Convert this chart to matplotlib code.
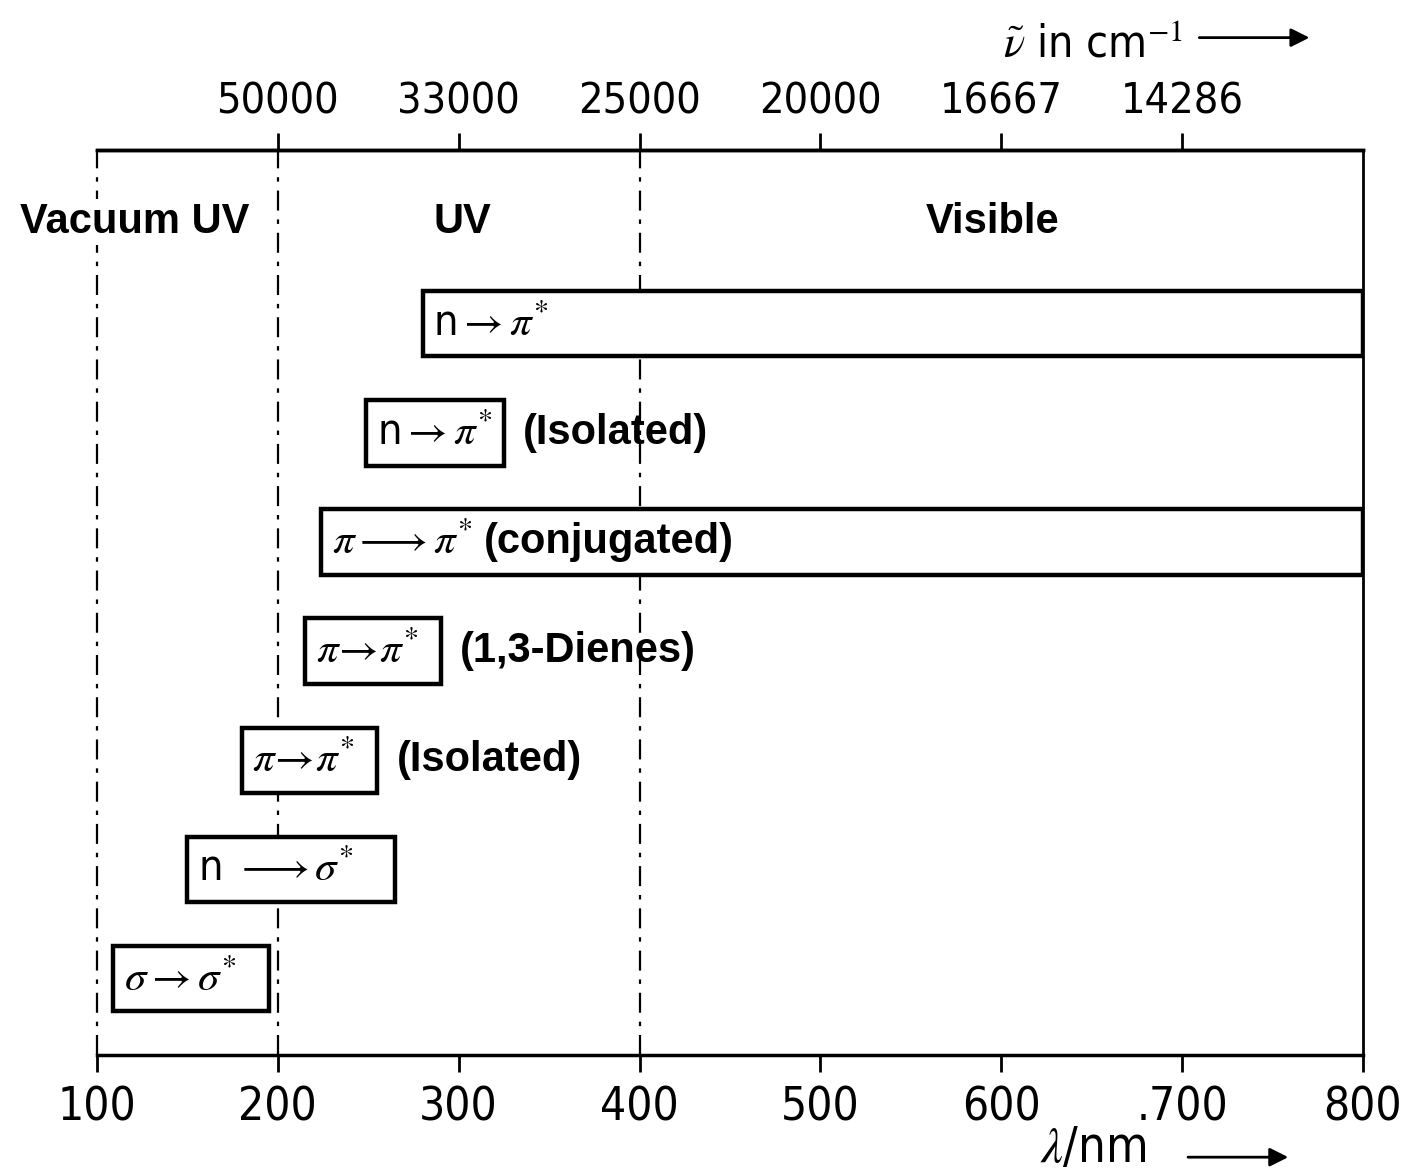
import matplotlib
matplotlib.use("Agg")
import matplotlib.pyplot as plt
from matplotlib.patches import Rectangle

plt.rcParams['mathtext.fontset'] = 'stix'
plt.rcParams['font.family'] = ['DejaVu Sans']
plt.rcParams['font.stretch'] = 'condensed'

# transitions, bottom row first (wavelength ranges in nm)
transitions = [r'$\sigma\rightarrow\sigma^{*}$',
               r'n $\longrightarrow\sigma^{*}$',
               r'$\pi\!\rightarrow\!\pi^{*}$',
               r'$\pi\!\rightarrow\!\pi^{*}$',
               r'$\pi\longrightarrow\pi^{*}$',
               r'n$\rightarrow\pi^{*}$',
               r'n$\rightarrow\pi^{*}$']
starts = [109, 150, 180, 215, 224, 249, 280]
ends = [195, 265, 255, 290, 800, 325, 800]
notes = ['', '', '(Isolated)', '(1,3-Dienes)', '(conjugated)', '(Isolated)', '']

regions = ['Vacuum UV', 'UV', 'Visible']
region_x = [121, 302, 595]
borders = [200, 400]

wl_ticks = [100, 200, 300, 400, 500, 600, 700, 800]
wl_labels = ['100', '200', '300', '400', '500', '600', '.700', '800']
wn_pos = [200, 300, 400, 500, 600, 700]
wn_labels = ['50000', '33000', '25000', '20000', '16667', '14286']

BOLD = ['Liberation Sans', 'DejaVu Sans']

fig = plt.figure(figsize=(14.11, 11.76), dpi=100)
ax = fig.add_axes([0.0687, 0.1029, 0.8973, 0.7695])
ax.set_xlim(100, 800)
ax.set_ylim(-0.70, 7.59)
ax.set_yticks([])

dash = (0, (9, 4, 2, 4))
for b in borders:
    ax.axvline(b, color='k', lw=1.6, ls=dash, zorder=1)
ax.axvline(100, color='k', lw=1.6, ls=dash, zorder=1, clip_on=False)
ax.spines['left'].set_visible(False)
for s in ['top', 'bottom']:
    ax.spines[s].set_linewidth(2.5)
ax.spines['right'].set_linewidth(2)

for name, xr in zip(regions, region_x):
    ax.text(xr, 6.93, name, ha='center', va='center', fontsize=30,
            fontweight='bold', family=BOLD, fontstretch='normal',
            bbox=dict(facecolor='white', edgecolor='none', pad=2),
            zorder=2, clip_on=False)

h = 0.6
for i, (lab, s, e, note) in enumerate(zip(transitions, starts, ends, notes)):
    rect = Rectangle((s, i - h / 2), e - s, h, facecolor='white',
                     edgecolor='k', lw=3.2, zorder=3)
    ax.add_patch(rect)
    t = ax.text(s + 6, i, lab, ha='left', va='center', fontsize=31, zorder=4)
    if note:
        anchor = t if e >= 800 else rect
        gap = 8 if e >= 800 else 14
        ax.annotate(note, xy=(1, 0.5), xycoords=anchor, xytext=(gap, 0),
                    textcoords='offset points', ha='left', va='center',
                    fontsize=30, fontweight='bold', family=BOLD,
                    fontstretch='normal', zorder=4)

ax.set_xticks(wl_ticks)
ax.set_xticklabels(wl_labels, fontsize=33)
ax.tick_params(axis='x', direction='out', length=12, width=2, pad=10)

top = ax.secondary_xaxis('top')
top.set_xticks(wn_pos)
top.set_xticklabels(wn_labels, fontsize=31)
top.tick_params(direction='out', length=12, width=2, pad=8)
top.spines['top'].set_linewidth(2.5)

fig.text(0.711, 0.963, r'$\tilde{\nu}$ in cm$^{-1}$', fontsize=32,
         ha='left', va='center')
fig.text(0.737, 0.003, r'$\lambda$/nm', fontsize=35, ha='left', va='bottom')
ax.annotate('', xy=(0.930, 0.968), xytext=(0.848, 0.968),
            xycoords='figure fraction',
            arrowprops=dict(arrowstyle='-|>', color='k', lw=2,
                            mutation_scale=28))
ax.annotate('', xy=(0.915, 0.016), xytext=(0.840, 0.016),
            xycoords='figure fraction',
            arrowprops=dict(arrowstyle='-|>', color='k', lw=2,
                            mutation_scale=28))

fig.savefig('out.png', dpi=100)
